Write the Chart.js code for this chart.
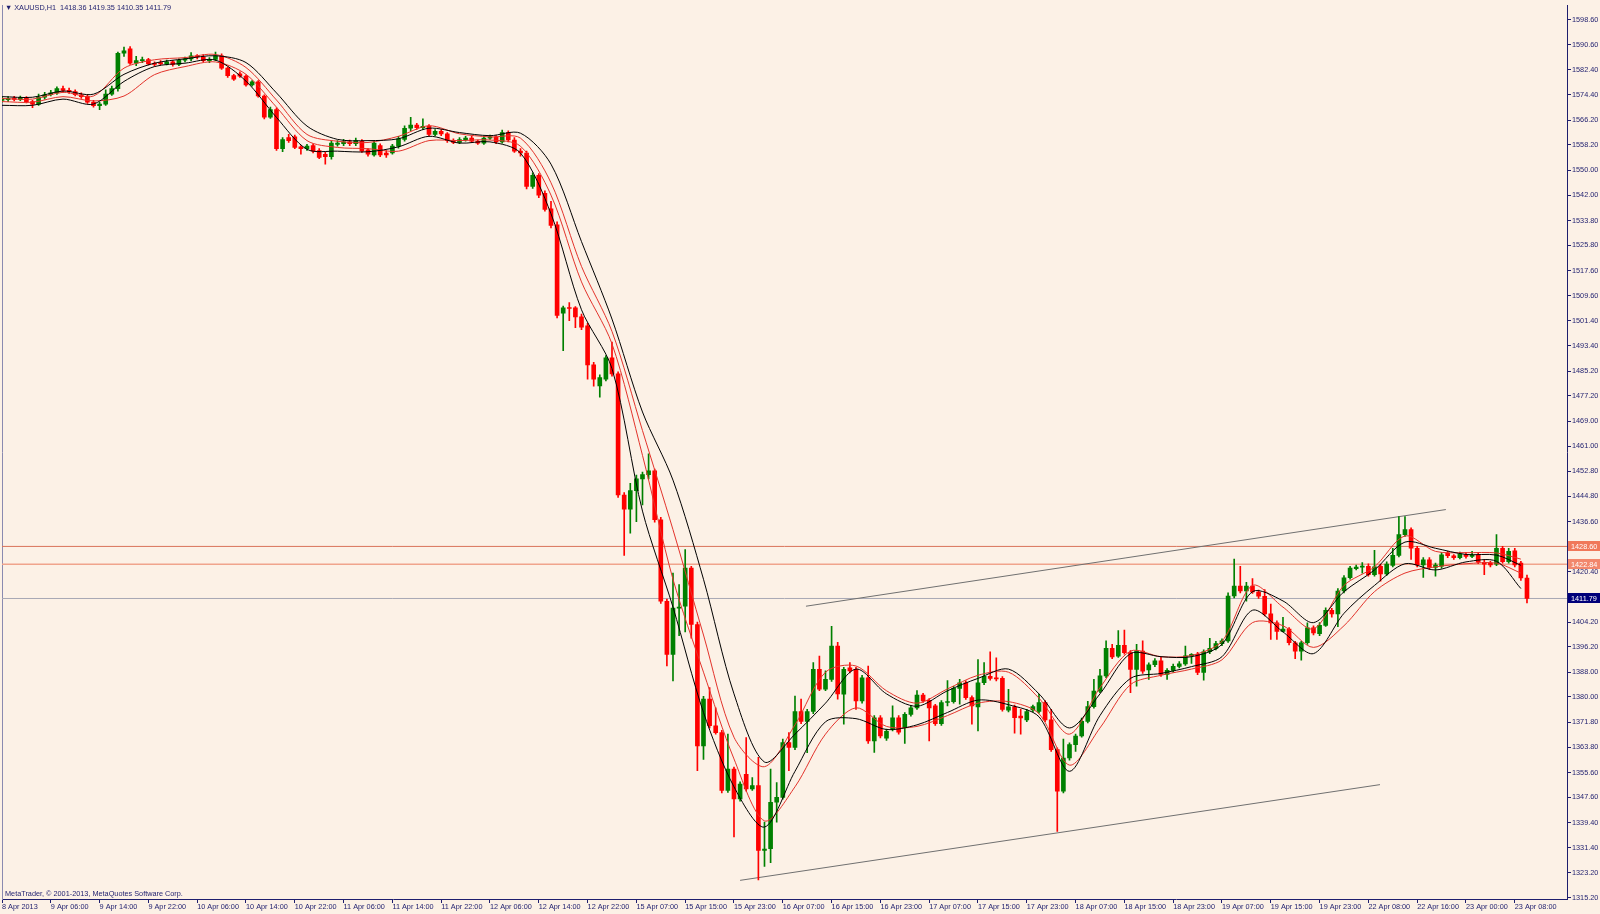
<!DOCTYPE html>
<html><head><meta charset="utf-8">
<script src="https://cdn.jsdelivr.net/npm/chart.js@4.4.0/dist/chart.umd.min.js"></script>
<style>
html,body{margin:0;padding:0;background:#FCF1E6;}
#wrap{position:relative;width:1600px;height:914px;overflow:hidden;}
canvas{display:block;}
.txt{position:absolute;font-family:"Liberation Sans",Arial,sans-serif;font-size:7.3px;color:#1e1e6e;white-space:pre;line-height:10px;}
</style></head><body>
<div id="wrap"><canvas id="c" width="1600" height="914"></canvas>
<div class="txt" style="left:5px;top:3px">▼ XAUUSD,H1  1418.36 1419.35 1410.35 1411.79</div>
<div class="txt" style="left:5px;top:889px">MetaTrader, © 2001-2013, MetaQuotes Software Corp.</div>
</div>
<script>
// ---- data ----
const xTickLabels = ["8 Apr 2013","9 Apr 06:00","9 Apr 14:00","9 Apr 22:00","10 Apr 06:00","10 Apr 14:00","10 Apr 22:00","11 Apr 06:00","11 Apr 14:00","11 Apr 22:00","12 Apr 06:00","12 Apr 14:00","12 Apr 22:00","15 Apr 07:00","15 Apr 15:00","15 Apr 23:00","16 Apr 07:00","16 Apr 15:00","16 Apr 23:00","17 Apr 07:00","17 Apr 15:00","17 Apr 23:00","18 Apr 07:00","18 Apr 15:00","18 Apr 23:00","19 Apr 07:00","19 Apr 15:00","19 Apr 23:00","22 Apr 08:00","22 Apr 16:00","23 Apr 00:00","23 Apr 08:00"];
const yTickValues = [1598.60,1590.60,1582.40,1574.40,1566.20,1558.20,1550.00,1542.00,1533.80,1525.80,1517.60,1509.60,1501.40,1493.40,1485.20,1477.20,1469.00,1461.00,1452.80,1444.80,1436.60,1420.40,1404.20,1396.20,1388.00,1380.00,1371.80,1363.80,1355.60,1347.60,1339.40,1331.40,1323.20,1315.20];

const open = [1572.6,1572.8,1573.3,1572.9,1573.4,1572.2,1571.4,1573.6,1574.4,1575.0,1576.4,1575.8,1575.4,1574.4,1573.8,1572.0,1570.9,1571.4,1574.6,1576.4,
1587.8,1589.2,1584.6,1585.4,1585.8,1584.4,1584.8,1584.4,1585.0,1584.2,1585.6,1586.0,1587.0,1586.6,1585.4,1585.8,1587.0,1583.0,1580.6,1581.2,
1580.4,1577.6,1578.6,1574.0,1567.2,1569.6,1557.0,1560.6,1560.8,1557.6,1557.0,1558.0,1556.4,1555.2,1554.4,1558.4,1558.6,1559.2,1558.6,1559.4,
1556.6,1555.0,1558.0,1555.6,1555.6,1557.8,1560.0,1563.6,1564.6,1563.8,1564.3,1561.6,1562.6,1561.8,1559.6,1559.0,1559.9,1560.4,1559.4,1558.8,
1560.4,1560.8,1559.2,1562.2,1559.8,1556.2,1555.6,1544.8,1548.4,1542.6,1537.6,1532.4,1503.9,1505.6,1505.6,1502.7,1499.8,1487.2,1480.4,1482.6,
1489.5,1484.3,1445.2,1440.6,1446.6,1450.4,1451.8,1453.0,1437.2,1410.9,1393.7,1408.7,1409.3,1421.6,1403.4,1364.2,1379.3,1370.7,1368.5,1349.8,
1356.7,1347.1,1355.0,1350.3,1351.4,1330.5,1331.0,1346.0,1347.6,1365.3,1363.7,1375.3,1372.1,1375.3,1388.9,1382.5,1385.7,1396.4,1380.9,1389.4,
1388.9,1378.7,1386.2,1365.8,1373.3,1366.7,1369.6,1373.3,1370.1,1374.4,1376.5,1380.6,1378.9,1377.1,1371.4,1378.2,1378.5,1382.8,1384.6,1379.8,
1376.8,1384.6,1386.7,1386.2,1386.0,1375.7,1376.8,1373.8,1372.6,1375.8,1375.3,1378.2,1372.6,1363.0,1349.6,1360.3,1364.6,1367.4,1372.1,1376.9,
1381.9,1386.8,1395.7,1393.2,1396.7,1394.3,1388.9,1394.8,1388.7,1390.4,1391.7,1387.3,1388.6,1389.9,1390.7,1393.3,1393.8,1387.9,1394.6,1395.7,
1397.2,1398.1,1412.6,1415.8,1414.2,1415.8,1413.9,1412.5,1406.8,1403.9,1401.2,1401.9,1397.5,1394.8,1397.5,1402.3,1400.4,1403.1,1408.0,1406.8,
1414.2,1418.5,1421.4,1421.9,1422.2,1419.5,1422.2,1419.7,1422.5,1425.7,1432.4,1434.0,1428.0,1422.6,1424.3,1421.8,1422.2,1426.4,1425.6,1425.0,
1426.0,1425.4,1425.9,1423.5,1423.2,1422.9,1428.0,1423.7,1427.2,1423.2,1418.36];
const high = [1573.6,1573.8,1573.9,1574.0,1573.8,1572.6,1574.6,1575.2,1575.8,1577.0,1577.2,1576.6,1576.0,1575.0,1574.4,1572.6,1572.0,1576.0,1577.2,1588.2,
1589.8,1590.0,1586.8,1586.6,1586.2,1585.0,1585.4,1585.6,1585.4,1586.0,1586.6,1588.0,1587.4,1587.4,1586.4,1588.2,1587.6,1583.4,1581.0,1581.8,
1580.8,1579.0,1579.0,1574.4,1570.4,1570.2,1560.6,1561.6,1561.4,1558.0,1558.4,1558.6,1557.0,1555.8,1559.4,1559.6,1560.0,1559.8,1560.4,1559.9,
1557.0,1559.4,1558.6,1556.4,1558.4,1561.0,1564.4,1567.1,1565.2,1566.6,1564.8,1563.2,1563.2,1562.2,1560.2,1560.6,1561.0,1561.0,1559.8,1561.0,
1561.4,1561.2,1563.0,1562.8,1560.6,1557.0,1556.2,1549.2,1549.0,1543.4,1540.0,1533.4,1506.2,1507.3,1506.0,1503.6,1500.6,1488.0,1484.0,1490.2,
1494.6,1485.0,1446.0,1449.0,1451.6,1452.6,1458.5,1453.6,1438.0,1411.6,1420.0,1416.3,1427.6,1422.2,1404.2,1380.2,1383.0,1376.5,1369.2,1368.0,
1357.4,1352.6,1366.9,1354.0,1360.5,1339.6,1356.7,1352.4,1366.4,1368.5,1380.3,1379.3,1376.0,1391.1,1393.2,1388.4,1402.8,1397.6,1389.6,1391.1,
1389.6,1387.0,1390.0,1374.0,1374.0,1369.6,1377.1,1374.0,1375.0,1377.2,1382.1,1381.2,1379.5,1377.6,1378.8,1385.3,1383.4,1385.7,1385.2,1380.4,
1392.1,1391.1,1394.6,1392.6,1386.6,1382.5,1377.4,1376.0,1376.0,1377.4,1380.9,1378.8,1376.0,1363.6,1366.4,1365.2,1368.0,1373.2,1378.6,1385.7,
1388.9,1398.1,1397.0,1401.4,1401.6,1395.0,1397.0,1398.1,1391.0,1392.4,1392.8,1389.2,1390.6,1391.4,1396.4,1394.0,1394.4,1395.2,1398.9,1398.0,
1398.8,1413.6,1424.5,1422.2,1417.0,1418.2,1414.5,1414.7,1410.0,1404.6,1405.7,1402.4,1398.0,1398.0,1403.9,1403.0,1404.0,1408.8,1408.6,1415.0,
1419.2,1422.2,1422.6,1423.4,1423.0,1427.3,1422.8,1423.6,1428.0,1438.2,1438.2,1434.6,1428.6,1425.0,1425.0,1423.2,1426.6,1427.0,1426.0,1426.8,
1426.6,1427.0,1426.4,1424.3,1423.8,1432.4,1428.6,1428.0,1428.0,1423.8,1419.35];
const low = [1572.0,1572.2,1572.4,1572.5,1571.8,1570.2,1571.0,1573.0,1574.0,1574.5,1575.2,1574.8,1574.0,1573.2,1571.6,1570.4,1569.6,1571.0,1574.2,1575.6,
1586.8,1584.2,1583.8,1584.8,1584.0,1583.6,1584.0,1584.0,1583.6,1583.8,1585.0,1585.4,1586.0,1585.0,1584.8,1585.4,1582.6,1580.0,1579.0,1580.0,
1577.2,1577.2,1573.6,1566.6,1566.8,1556.4,1556.0,1559.0,1557.0,1555.2,1556.4,1555.6,1553.8,1552.0,1553.6,1557.8,1558.0,1558.0,1558.0,1555.8,
1554.6,1554.6,1554.4,1554.2,1555.2,1557.2,1559.4,1562.8,1563.2,1563.2,1561.0,1561.2,1561.2,1559.0,1558.6,1558.6,1559.4,1559.0,1558.4,1558.4,
1560.0,1558.6,1558.8,1559.2,1555.8,1554.6,1544.0,1544.2,1541.2,1536.8,1531.4,1502.4,1491.8,1501.5,1499.2,1498.6,1482.6,1480.3,1476.8,1482.0,
1483.6,1444.4,1425.7,1432.9,1436.6,1442.0,1450.4,1436.4,1410.2,1390.0,1385.2,1399.8,1401.0,1399.0,1356.2,1359.8,1370.0,1368.0,1349.0,1349.2,
1334.8,1346.4,1349.6,1349.8,1320.9,1325.3,1326.5,1339.6,1347.0,1356.2,1363.0,1371.4,1362.0,1374.6,1382.0,1382.0,1385.0,1379.3,1371.2,1387.8,
1376.0,1378.0,1365.0,1362.1,1366.8,1366.0,1369.0,1368.0,1365.0,1373.8,1376.0,1378.2,1365.8,1370.8,1370.8,1377.1,1378.0,1377.7,1379.2,1371.2,
1369.0,1384.0,1385.4,1385.2,1375.4,1375.2,1368.3,1368.0,1372.0,1375.2,1374.8,1372.0,1362.4,1336.6,1349.0,1359.6,1362.4,1367.0,1371.6,1376.4,
1381.4,1386.2,1392.4,1392.8,1393.8,1381.4,1383.5,1387.6,1385.7,1389.8,1386.6,1385.7,1388.0,1389.4,1390.2,1390.8,1387.2,1385.4,1394.0,1395.2,
1396.6,1397.6,1412.0,1413.6,1410.9,1413.4,1411.8,1406.2,1398.6,1398.6,1401.0,1396.8,1392.4,1391.9,1397.0,1400.0,1399.8,1402.8,1405.8,1402.7,
1413.6,1418.0,1421.0,1420.0,1419.0,1419.0,1417.4,1419.2,1422.0,1425.2,1431.8,1424.4,1422.0,1418.6,1421.2,1419.0,1421.6,1425.0,1424.4,1424.6,
1424.8,1425.0,1423.0,1419.5,1422.0,1422.4,1423.2,1423.2,1422.0,1417.6,1410.35];
const close = [1573.0,1573.2,1572.9,1573.4,1572.2,1571.4,1573.6,1574.4,1575.0,1576.4,1575.8,1575.4,1574.4,1573.8,1572.0,1570.9,1571.4,1574.6,1576.4,1587.8,
1588.6,1584.6,1585.4,1585.8,1584.4,1584.2,1584.4,1585.0,1584.2,1585.6,1586.0,1587.0,1586.6,1585.4,1585.8,1587.0,1583.0,1580.6,1579.4,1580.4,
1577.6,1578.6,1574.0,1567.2,1569.6,1557.0,1559.9,1559.6,1557.4,1557.0,1557.8,1556.2,1554.2,1554.4,1558.8,1558.8,1559.2,1558.6,1559.6,1556.2,
1555.2,1558.8,1555.0,1555.0,1557.8,1560.2,1563.6,1564.6,1563.8,1564.2,1561.6,1562.6,1561.8,1559.6,1559.0,1559.9,1560.4,1559.4,1558.8,1560.4,
1560.8,1559.2,1562.2,1559.8,1556.2,1555.6,1544.8,1548.4,1542.0,1537.4,1532.2,1503.2,1505.6,1505.4,1502.7,1499.4,1487.2,1482.6,1483.1,1489.5,
1484.3,1445.2,1440.6,1446.6,1450.4,1451.8,1453.0,1437.2,1410.9,1393.7,1408.7,1408.9,1421.6,1403.4,1364.2,1379.3,1370.7,1368.5,1349.8,1356.7,
1347.1,1351.9,1350.3,1351.4,1330.5,1330.9,1346.0,1347.6,1365.3,1363.7,1375.3,1372.1,1375.3,1388.9,1382.5,1385.7,1396.4,1381.0,1388.9,1388.4,
1378.7,1386.2,1365.8,1373.3,1367.4,1368.9,1373.3,1368.6,1374.4,1376.5,1380.6,1378.7,1376.5,1371.4,1378.2,1378.5,1382.8,1384.6,1379.8,1377.1,
1384.6,1386.7,1386.0,1385.8,1376.0,1376.8,1373.3,1373.2,1375.3,1376.9,1378.2,1372.6,1363.0,1349.6,1360.3,1364.6,1367.4,1372.1,1376.9,1381.9,
1386.8,1395.7,1392.9,1396.7,1394.3,1388.9,1394.8,1388.3,1390.4,1391.7,1387.3,1388.6,1389.9,1390.7,1393.3,1393.8,1387.9,1394.6,1395.7,1397.2,
1398.1,1412.6,1415.8,1414.2,1415.8,1413.9,1412.5,1406.8,1403.9,1401.2,1401.9,1397.5,1394.8,1397.5,1402.3,1400.7,1403.1,1408.0,1406.8,1414.2,
1418.5,1421.6,1421.9,1422.0,1419.5,1422.0,1419.7,1422.9,1425.7,1432.4,1434.0,1428.0,1422.6,1424.3,1421.8,1422.6,1425.9,1425.6,1425.0,1426.2,
1425.4,1425.9,1423.5,1422.9,1422.6,1428.0,1423.7,1427.0,1422.6,1418.4,1411.79];

// indicator lines, sampled every 5 bars
const maBars = [0,5,10,15,20,25,30,35,40,45,50,55,60,65,70,75,80,85,90,95,100,105,110,115,120,125,130,135,140,145,150,155,160,165,170,175,180,185,190,195,200,205,210,215,220,225,230,235,240,245,249];
const maBlackUpper = [1573.8,1573.6,1575.6,1574.6,1581.0,1584.6,1586.0,1587.0,1584.8,1575.0,1564.3,1560.0,1559.6,1560.2,1563.6,1562.2,1561.2,1562.0,1552.0,1527.0,1502.0,1472.0,1450.0,1418.0,1381.0,1359.0,1368.0,1378.0,1389.0,1381.0,1377.0,1382.0,1386.0,1389.0,1381.0,1370.0,1381.0,1394.0,1393.0,1393.0,1397.0,1414.0,1411.0,1404.0,1414.0,1421.0,1430.0,1428.0,1426.0,1425.8,1422.5];
const maRedUpper = [1573.2,1573.0,1575.2,1574.0,1583.0,1585.7,1586.4,1587.4,1583.2,1572.7,1561.6,1559.4,1559.0,1561.0,1564.4,1561.8,1560.8,1560.4,1546.0,1519.0,1498.0,1466.0,1434.0,1400.0,1367.0,1357.5,1371.0,1388.0,1390.0,1382.0,1378.0,1382.6,1387.0,1388.0,1379.6,1368.0,1383.0,1394.8,1393.0,1393.4,1398.0,1416.0,1409.0,1402.0,1416.0,1422.0,1432.0,1427.0,1426.6,1426.5,1424.5];
const maRedLower = [1572.2,1572.0,1573.8,1572.4,1574.0,1580.9,1583.5,1585.0,1581.0,1570.4,1559.6,1557.4,1557.0,1556.2,1559.6,1559.6,1559.8,1557.8,1542.0,1514.0,1494.0,1458.0,1418.0,1388.0,1360.0,1340.0,1351.0,1368.0,1376.5,1370.5,1370.5,1374.0,1378.0,1378.5,1374.6,1358.0,1370.0,1384.0,1387.0,1389.0,1392.0,1404.0,1403.0,1396.0,1403.0,1414.0,1420.0,1422.0,1423.0,1423.2,1420.0];
const maBlackLower = [1571.0,1571.0,1573.0,1571.4,1578.7,1583.5,1584.6,1585.6,1578.8,1567.1,1556.8,1556.2,1556.0,1557.6,1561.0,1558.8,1559.2,1555.6,1536.0,1505.0,1486.0,1440.0,1409.0,1375.0,1351.0,1338.0,1356.0,1372.0,1373.0,1369.5,1371.0,1375.0,1379.0,1377.5,1373.6,1356.0,1374.0,1386.0,1387.6,1389.8,1393.0,1408.0,1401.0,1394.0,1407.0,1416.0,1423.0,1421.0,1423.6,1423.8,1415.0];

// horizontal price levels and trend lines (bar index, price)
const levelRed = 1428.60;
const levelSalmon = 1422.84;
const levelBid = 1411.79;
const trendUpper = [[131.8,1409.3],[236.7,1440.5]];
const trendLower = [[121.0,1320.8],[225.9,1351.7]];

// ---- styling ----
const BG = '#FCF1E6', AXIS = '#1e1e6e', TXT = '#1e1e6e';
const BULL = '#008000', BEAR = '#FF0000';
const FONT = {family:'"Liberation Sans", Arial, sans-serif', size:7.3};
const Y_MIN = 1314.78, Y_MAX = 1603.26;
const X_MIN = 0, X_MAX = 256.56;

const idx = close.map((_, i) => i);
const col = idx.map(i => close[i] >= open[i] ? BULL : BEAR);
const wickData = idx.map(i => ({x:i, y:[low[i], high[i]]}));
const bodyData = idx.map(i => ({x:i, y:[open[i], close[i]]}));
const toPts = arr => maBars.map((b, k) => ({x:b, y:arr[k]}));
const hline = v => [{x:-5, y:v}, {x:265, y:v}];
const seg = s => s.map(p => ({x:p[0], y:p[1]}));

const lineDs = (label, data, color, width, order, tension) => ({
  type:'line', label, data, borderColor:color, borderWidth:width, pointRadius:0,
  tension: tension || 0, fill:false, order, yAxisID:'y', xAxisID:'x'
});

const tagPlugin = {
  id:'tags',
  afterDraw(chart) {
    const ctx = chart.ctx, ys = chart.scales.y, ca = chart.chartArea;
    const tags = [[levelRed,'#F0785A'],[levelSalmon,'#F2876C'],[levelBid,'#00007A']];
    ctx.save();
    ctx.font = '7.3px "Liberation Sans", Arial, sans-serif';
    ctx.textBaseline = 'middle';
    ctx.textAlign = 'left';
    tags.forEach(([v, c]) => {
      const y = Math.round(ys.getPixelForValue(v));
      ctx.fillStyle = c;
      ctx.fillRect(ca.right + 1, y - 5, chart.width - ca.right - 1, 10);
      ctx.fillStyle = '#FFFFFF';
      ctx.fillText(v.toFixed(2), ca.right + 4, y + 0.5);
    });
    ctx.restore();
  }
};
const bgPlugin = {
  id:'bg',
  beforeDraw(chart) {
    const ctx = chart.ctx;
    ctx.save(); ctx.fillStyle = BG; ctx.fillRect(0, 0, chart.width, chart.height); ctx.restore();
  }
};

new Chart(document.getElementById('c'), {
  type:'bar',
  data:{
    datasets:[
      lineDs('level1', hline(levelRed), '#D9735A', 1, 20),
      lineDs('level2', hline(levelSalmon), '#F0A48C', 1.5, 20),
      lineDs('bid', hline(levelBid), '#A8A8B4', 1, 20),
      lineDs('trendU', seg(trendUpper), '#707070', 1, 19),
      lineDs('trendL', seg(trendLower), '#707070', 1, 19),
      {type:'bar', label:'wick', data:wickData, backgroundColor:col, borderWidth:0, barThickness:1, grouped:false, order:4, minBarLength:1},
      {type:'bar', label:'body', data:bodyData, backgroundColor:col, borderWidth:0, barThickness:4, grouped:false, order:3, minBarLength:1},
      lineDs('bu', toPts(maBlackUpper), '#000000', 1, 1, 0.3),
      lineDs('ru', toPts(maRedUpper), '#E2332B', 1, 2, 0.3),
      lineDs('rl', toPts(maRedLower), '#E2332B', 1, 2, 0.3),
      lineDs('bl', toPts(maBlackLower), '#000000', 1, 1, 0.3)
    ]
  },
  options:{
    responsive:false, animation:false, devicePixelRatio:1,
    layout:{padding:{left:0, top:2, right:0, bottom:0}},
    plugins:{legend:{display:false}, tooltip:{enabled:false}, title:{display:false}},
    scales:{
      x:{
        type:'linear', min:X_MIN, max:X_MAX, offset:false,
        grid:{display:true, drawOnChartArea:false, drawTicks:true, tickLength:4, color:AXIS, tickColor:AXIS, offset:false},
        border:{display:true, color:AXIS, width:1},
        ticks:{autoSkip:false, maxRotation:0, minRotation:0, align:'start', padding:0, color:TXT, font:FONT,
               callback:(v, i) => xTickLabels[i]},
        afterBuildTicks: s => { s.ticks = xTickLabels.map((_, k) => ({value:k * 8})); },
        afterFit: s => { s.height = 15; }
      },
      y:{
        position:'right', min:Y_MIN, max:Y_MAX,
        grid:{display:true, drawOnChartArea:false, drawTicks:true, tickLength:4, color:AXIS, tickColor:AXIS},
        border:{display:true, color:AXIS, width:1},
        ticks:{padding:1, color:TXT, font:FONT, callback:v => Number(v).toFixed(2)},
        afterBuildTicks: s => { s.ticks = yTickValues.map(v => ({value:v})); },
        afterFit: s => { s.width = 33; }
      },
      yL:{
        position:'left', min:Y_MIN, max:Y_MAX, display:true,
        grid:{display:false, drawTicks:false}, ticks:{display:false},
        border:{display:true, color:'#8a8ab0', width:1},
        afterFit: s => { s.width = 2; }
      }
    }
  },
  plugins:[bgPlugin, tagPlugin]
});
</script>
</body></html>
